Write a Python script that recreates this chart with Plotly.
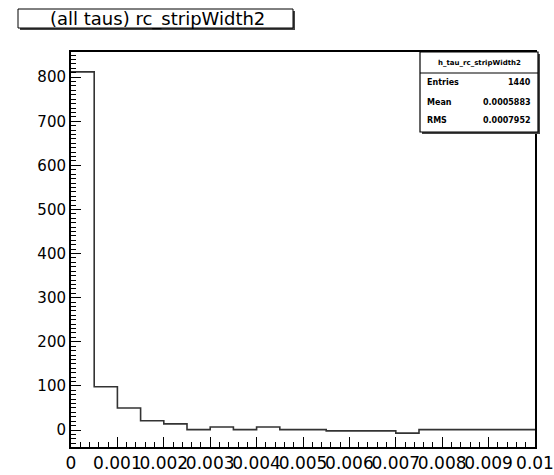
import plotly.graph_objects as go

# Data: 20 bins of width 0.0005 over [0, 0.01]
bin_edges = [i * 0.0005 for i in range(21)]
counts = [812, 98, 50, 21, 14, 1, 7, 1, 7, 1, 1, -2, -2, -2, -7, 1, 1, 1, 1, 1]

x_tickvals = [0, 0.001, 0.002, 0.003, 0.004, 0.005, 0.006, 0.007, 0.008, 0.009, 0.01]
x_ticktext = ["0", "0.001", "0.002", "0.003", "0.004", "0.005", "0.006", "0.007", "0.008", "0.009", "0.01"]
y_tickvals = [0, 100, 200, 300, 400, 500, 600, 700, 800]

hist_title = "(all taus) rc_stripWidth2"
stats_name = "h_tau_rc_stripWidth2"
stats_labels = ["Entries", "Mean", "RMS"]
stats_values = ["1440", "0.0005883", "0.0007952"]

xs = bin_edges
ys = counts + [counts[-1]]

L, R, T, B = 71, 19, 52, 28
W, H = 554.0, 475.0
PW, PH = W - L - R, H - T - B

fig = go.Figure()
fig.add_trace(go.Scatter(x=xs, y=ys, mode="lines", line=dict(shape="hv", color="#333333", width=1.6),
                         hoverinfo="skip", showlegend=False, cliponaxis=False))

font_family = "DejaVu Sans, Liberation Sans, sans-serif"
fig.update_layout(
    width=554, height=475,
    margin=dict(l=L, r=R, t=T, b=B, autoexpand=False),
    paper_bgcolor="white", plot_bgcolor="white",
    showlegend=False,
    font=dict(family=font_family, size=15, color="black"),
    xaxis=dict(range=[0, 0.0100001], tickvals=x_tickvals, ticktext=x_ticktext, tickangle=0, automargin=False,
               ticklabeloverflow="allow",
               ticks="inside", ticklen=10, tickwidth=1, tickcolor="black",
               showline=True, linecolor="black", linewidth=2, mirror=True,
               showgrid=False, zeroline=False,
               minor=dict(dtick=0.0002, ticks="inside", ticklen=5, tickcolor="black", showgrid=False),
               tickfont=dict(size=17)),
    yaxis=dict(range=[-38.5, 857], tickvals=y_tickvals, automargin=False,
               ticks="inside", ticklen=10, tickwidth=1, tickcolor="black",
               showline=True, linecolor="black", linewidth=2, mirror=True,
               showgrid=False, zeroline=False,
               minor=dict(dtick=10, ticks="inside", ticklen=5, tickcolor="black", showgrid=False),
               tickfont=dict(size=15)),
)

def px(x):
    return (x - L) / PW
def py(y):
    return (H - B - y) / PH

shapes = []
# title box shadow and box
shapes.append(dict(type="rect", xref="paper", yref="paper", x0=px(20), x1=px(295), y0=py(30), y1=py(11),
                   fillcolor="#444444", line=dict(width=0), layer="above"))
shapes.append(dict(type="rect", xref="paper", yref="paper", x0=px(18), x1=px(293), y0=py(28), y1=py(9),
                   fillcolor="white", line=dict(color="black", width=1), layer="above"))
# stats box shadow and box
shapes.append(dict(type="rect", xref="paper", yref="paper", x0=px(422), x1=px(540), y0=py(134), y1=py(54),
                   fillcolor="#444444", line=dict(width=0), layer="above"))
shapes.append(dict(type="rect", xref="paper", yref="paper", x0=px(420), x1=px(538), y0=py(132), y1=py(52),
                   fillcolor="white", line=dict(color="black", width=1.2), layer="above"))
shapes.append(dict(type="line", xref="paper", yref="paper", x0=px(420), x1=px(538), y0=py(73), y1=py(73),
                   line=dict(color="black", width=1.2), layer="above"))
fig.update_layout(shapes=shapes)

annotations = [
    dict(text=hist_title, xref="paper", yref="paper", x=px(157), y=py(18.5), xanchor="center", yanchor="middle",
         showarrow=False, font=dict(size=18, family=font_family)),
    dict(text="<b>" + stats_name + "</b>", xref="paper", yref="paper", x=px(479), y=py(62.5), xanchor="center",
         yanchor="middle", showarrow=False, font=dict(size=7, family=font_family)),
]
row_y = [83, 102, 120]
for lab, val, yy in zip(stats_labels, stats_values, row_y):
    annotations.append(dict(text="<b>" + lab + "</b>", xref="paper", yref="paper", x=px(425), y=py(yy),
                            xanchor="left", yanchor="middle", showarrow=False, font=dict(size=8, family=font_family)))
    annotations.append(dict(text="<b>" + val + "</b>", xref="paper", yref="paper", x=px(533), y=py(yy),
                            xanchor="right", yanchor="middle", showarrow=False, font=dict(size=8, family=font_family)))
fig.update_layout(annotations=annotations)

fig.write_html("out.html")
